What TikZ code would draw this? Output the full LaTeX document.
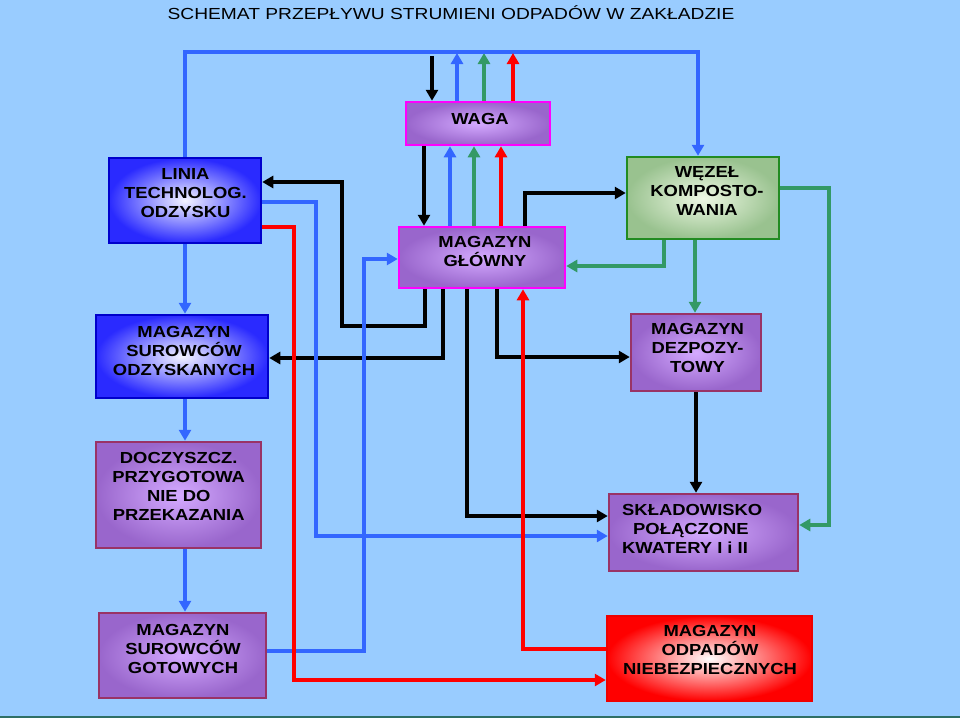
\documentclass[tikz,border=0pt]{standalone}
\usepackage{fontspec}
\setmainfont{Liberation Sans}
\newfontfamily\boxfont[FakeStretch=1.15]{Liberation Sans}
\newfontfamily\titlefont[FakeStretch=1.2]{Liberation Sans}
\usetikzlibrary{arrows.meta}
\definecolor{bgc}{HTML}{99CCFF}
\definecolor{lblue}{HTML}{3366FF}
\definecolor{lgreen}{HTML}{339966}
\definecolor{lred}{HTML}{FF0000}
\definecolor{purpIn}{HTML}{D4AAFF}
\definecolor{purpOut}{HTML}{9966CC}
\definecolor{magb}{HTML}{FF00FF}
\definecolor{dpb}{HTML}{993366}
\definecolor{bluIn}{HTML}{F4F4FF}
\definecolor{bluOut}{HTML}{2A2AFF}
\definecolor{blub}{HTML}{0000CC}
\definecolor{grnIn}{HTML}{EEF8E4}
\definecolor{grnOut}{HTML}{99C28F}
\definecolor{grnb}{HTML}{228B22}
\definecolor{redIn}{HTML}{FFFFFF}
\definecolor{redOut}{HTML}{FF0000}
\definecolor{redb}{HTML}{EE0000}
\definecolor{foot}{HTML}{2F6F66}
\tikzset{
  box/.style={line width=2.5pt, inner sep=0pt},
  purpbox/.style={box, draw=dpb, inner color=purpIn, outer color=purpOut},
  magbox/.style={box, draw=magb, inner color=purpIn, outer color=purpOut},
  blubox/.style={box, draw=blub, inner color=bluIn, outer color=bluOut},
  grnbox/.style={box, draw=grnb, inner color=grnIn, outer color=grnOut},
  redbox/.style={box, draw=redb, inner color=redIn, outer color=redOut},
  lbl/.style={inner sep=0pt, align=center, font=\boxfont\bfseries\fontsize{16}{19}\selectfont},
  arr/.style={-{Triangle[length=11pt,width=12pt]}},
  conn/.style={line width=3.8pt},
  bk/.style={conn, draw=black},
  bl/.style={conn, draw=lblue},
  gr/.style={conn, draw=lgreen},
  rd/.style={conn, draw=lred}
}
\begin{document}
\begin{tikzpicture}[x=1pt,y=-1pt]
\useasboundingbox (0,0) rectangle (960,718);
\fill[bgc] (0,0) rectangle (960,718);
\draw[foot, line width=2pt] (0,717) -- (960,717);
\node[font=\titlefont\fontsize{16}{19}\selectfont, inner sep=0pt] (title) at (451,12.5) {SCHEMAT PRZEPŁYWU STRUMIENI ODPADÓW W ZAKŁADZIE};

% boxes
\node[magbox, minimum width=144, minimum height=43] (waga) at (478,123.5) {};
\node[magbox, minimum width=166, minimum height=61] (mg) at (482,257.5) {};
\node[blubox, minimum width=152, minimum height=85] (lin) at (185,200.5) {};
\node[grnbox, minimum width=152, minimum height=82] (wez) at (703,198) {};
\node[blubox, minimum width=172, minimum height=83] (mso) at (182,356.5) {};
\node[purpbox, minimum width=130, minimum height=77] (dez) at (696,352.5) {};
\node[purpbox, minimum width=165, minimum height=106] (docz) at (178.5,495) {};
\node[purpbox, minimum width=189, minimum height=77] (skl) at (703.5,532.5) {};
\node[purpbox, minimum width=167, minimum height=85] (msg) at (182.5,655.5) {};
\node[redbox, minimum width=205, minimum height=85] (nieb) at (709.5,658.5) {};

% labels
\node[lbl] (wagat) at (480,118.5) {WAGA};
\node[lbl] (mgt) at (485,251.5) {MAGAZYN\\GŁÓWNY};
\node[lbl] (lint) at (185.5,193) {LINIA\\TECHNOLOG.\\ODZYSKU};
\node[lbl] (wezt) at (707,191) {WĘZEŁ\\KOMPOSTO-\\WANIA};
\node[lbl] (msot) at (184,350.5) {MAGAZYN\\SUROWCÓW\\ODZYSKANYCH};
\node[lbl] (dezt) at (697.5,348) {MAGAZYN\\DEZPOZY-\\TOWY};
\node[lbl] (doczt) at (178.7,486) {DOCZYSZCZ.\\PRZYGOTOWA\\NIE DO\\PRZEKAZANIA};
\node[lbl, align=left, anchor=west] (sklt) at (622,529) {SKŁADOWISKO\\\hspace*{11pt}POŁĄCZONE\\KWATERY I i II};
\node[lbl] (msgt) at (183,649) {MAGAZYN\\SUROWCÓW\\GOTOWYCH};
\node[lbl] (niebt) at (710,650) {MAGAZYN\\ODPADÓW\\NIEBEZPIECZNYCH};

% free ends at the top
\coordinate (topk) at (432,56);
\coordinate (topb) at (457,53);
\coordinate (topg) at (484,53);
\coordinate (topr) at (513,53);

% black connectors
\draw[bk,arr] (topk) -- (432,0 |- waga.north);
\draw[bk,arr] (424,0 |- waga.south) -- (424,0 |- mg.north);
\draw[bk,arr] (525,0 |- mg.north) |- (wez.west |- 0,193);
\draw[bk,arr] (425,0 |- mg.south) -- (425,326) -| (342,182) -- (lin.east |- 0,182);
\draw[bk,arr] (443,0 |- mg.south) |- (mso.east |- 0,358);
\draw[bk,arr] (467,0 |- mg.south) |- (skl.west |- 0,516);
\draw[bk,arr] (497,0 |- mg.south) |- (dez.west |- 0,357);
\draw[bk,arr] (dez.south -| 696,0) -- (skl.north -| 696,0);

% green connectors
\draw[gr,arr] (474,0 |- mg.north) -- (474,0 |- waga.south);
\draw[gr,arr] (484,0 |- waga.north) -- (topg);
\draw[gr,arr] (664,0 |- wez.south) |- (mg.east |- 0,266);
\draw[gr,arr] (695,0 |- wez.south) -- (695,0 |- dez.north);
\draw[gr,arr] (wez.east |- 0,188) -| (829,525) -- (skl.east |- 0,525);

% blue connectors
\draw[bl,arr] (lin.north) |- (698,52) -- (698,0 |- wez.north);
\draw[bl,arr] (457,0 |- waga.north) -- (topb);
\draw[bl,arr] (450,0 |- mg.north) -- (450,0 |- waga.south);
\draw[bl,arr] (lin.east |- 0,202) -| (316,536) -- (skl.west |- 0,536);
\draw[bl,arr] (msg.east |- 0,651) -| (364,259) -- (mg.west |- 0,259);
\draw[bl,arr] (185,0 |- lin.south) -- (185,0 |- mso.north);
\draw[bl,arr] (185,0 |- mso.south) -- (185,0 |- docz.north);
\draw[bl,arr] (185,0 |- docz.south) -- (185,0 |- msg.north);

% red connectors
\draw[rd,arr] (501,0 |- mg.north) -- (501,0 |- waga.south);
\draw[rd,arr] (513,0 |- waga.north) -- (topr);
\draw[rd,arr] (nieb.west |- 0,649) -| (523,0 |- mg.south);
\draw[rd,arr] (lin.east |- 0,227) -| (294,680) -- (nieb.west |- 0,680);
\end{tikzpicture}
\end{document}
